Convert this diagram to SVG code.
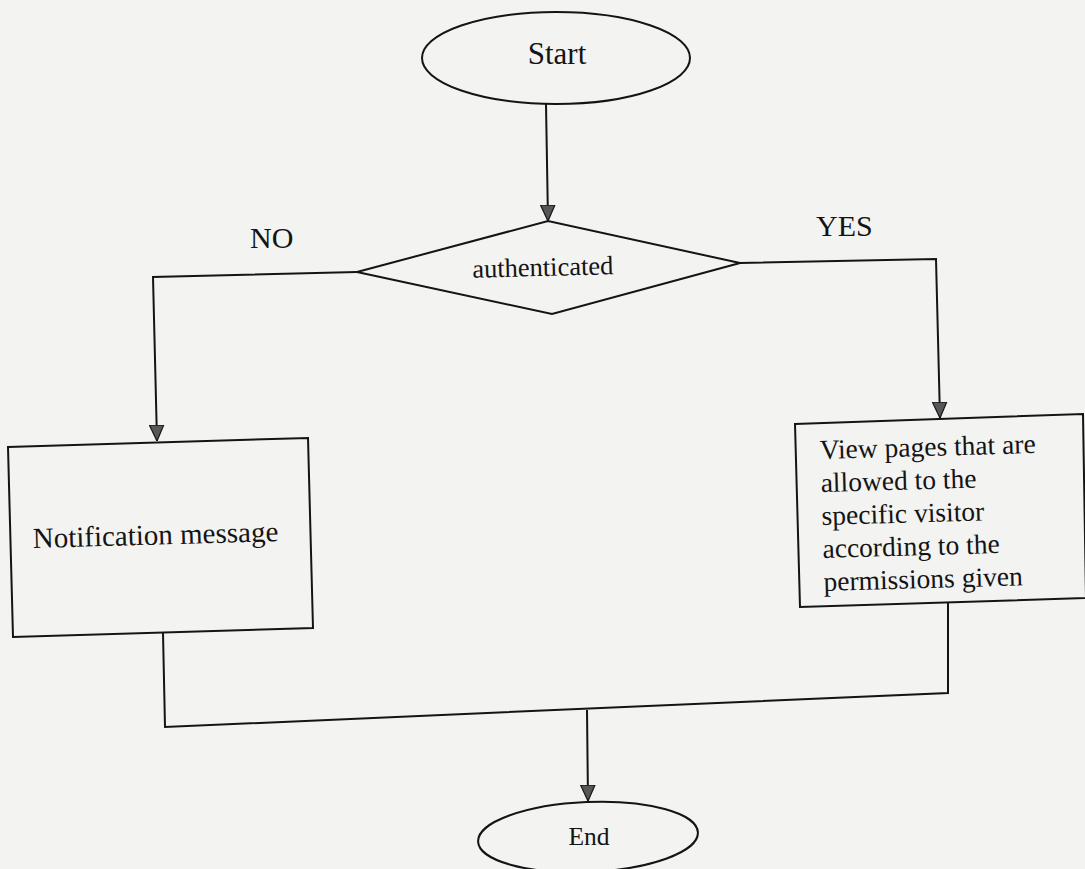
<svg xmlns="http://www.w3.org/2000/svg" width="1085" height="869" viewBox="0 0 1085 869">
  <defs>
    <marker id="arrow" markerUnits="userSpaceOnUse" markerWidth="16" markerHeight="16" viewBox="0 0 10 10" refX="10" refY="5" orient="auto">
      <path d="M0,0.5 L10,5 L0,9.5 z" fill="#575757" stroke="#1a1a1a" stroke-width="0.8"/>
    </marker>
    <style>
      .shape { fill: #f3f3f2; stroke: #141414; stroke-width: 2; }
      .line { fill: none; stroke: #141414; stroke-width: 2; }
      .txt { font-family: "Liberation Serif", "Times New Roman", serif; fill: #141414; }
    </style>
  </defs>

  <rect width="1085" height="869" fill="#f3f3f2"/>

  <!-- connectors -->
  <g id="connectors">
    <line class="line" x1="546" y1="104" x2="548" y2="221" marker-end="url(#arrow)"/>
    <polyline class="line" points="357,272 153,277 157,441" marker-end="url(#arrow)"/>
    <polyline class="line" points="740,263 936,259 940,418" marker-end="url(#arrow)"/>
    <polyline class="line" points="163,633 165,727 948,693 948,602"/>
    <line class="line" x1="587" y1="710" x2="588" y2="801" marker-end="url(#arrow)"/>
  </g>

  <!-- start terminal -->
  <g id="start">
    <ellipse class="shape" cx="556" cy="58" rx="134" ry="46"/>
    <text class="txt" x="557" y="64" font-size="31" text-anchor="middle">Start</text>
  </g>

  <!-- decision -->
  <g id="decision">
    <polygon class="shape" points="357,272 548,221 740,263 552,314"/>
    <text class="txt" x="543" y="276" font-size="26.5" text-anchor="middle" transform="rotate(-1.4 543 276)">authenticated</text>
  </g>

  <!-- branch labels -->
  <g id="labels">
    <text class="txt" x="250" y="248" font-size="30">NO</text>
    <text class="txt" x="816" y="236" font-size="30">YES</text>
  </g>

  <!-- failure branch -->
  <g id="notification">
    <polygon class="shape" points="8,447 308,438 313,628 13,637"/>
    <text class="txt" x="33" y="548" font-size="29" transform="rotate(-1.6 33 548)">Notification message</text>
  </g>

  <!-- success branch -->
  <g id="view-pages">
    <polygon class="shape" points="795,424 1083,414 1086,598 800,607"/>
    <g class="txt" font-size="27.5" transform="rotate(-1.6 820 459)">
      <text x="820" y="459">View pages that are</text>
      <text x="820" y="492">allowed to the</text>
      <text x="820" y="525">specific visitor</text>
      <text x="820" y="558">according to the</text>
      <text x="820" y="591">permissions given</text>
    </g>
  </g>

  <!-- end terminal -->
  <g id="end">
    <ellipse class="shape" cx="588" cy="837" rx="110" ry="35" transform="rotate(-2.4 588 837)"/>
    <text class="txt" x="589" y="845" font-size="25.5" text-anchor="middle">End</text>
  </g>
</svg>
